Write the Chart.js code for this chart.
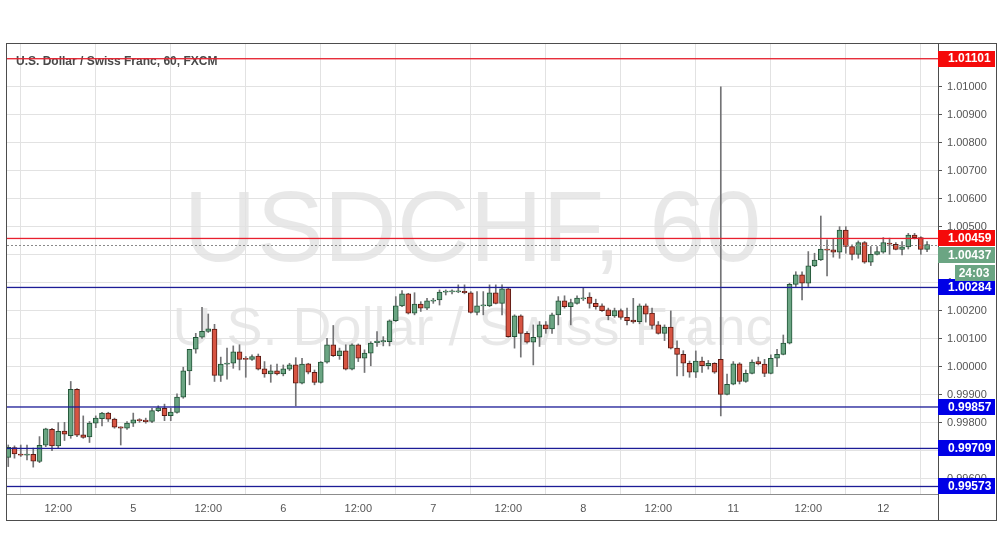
<!DOCTYPE html>
<html><head>
<meta charset="utf-8">
<title>USDCHF, 60</title>
<script src="https://cdn.jsdelivr.net/npm/chart.js"></script>
<style>
  body { margin: 0; background: #fff; }
  canvas { display: block; }
</style>
</head>
<body>
<canvas id="chart" width="1002" height="558"></canvas>
<script>
// hourly candles (index 0 = day 4, 04:00)
const opens = [
  0.99677, 0.99712, 0.99689, 0.99685, 0.99688, 0.99662, 0.99720, 0.99777, 0.99718, 0.99771,
  0.99754, 0.99920, 0.99757, 0.99750, 0.99799, 0.99815, 0.99835, 0.99814, 0.99786, 0.99781,
  0.99799, 0.99810, 0.99810, 0.99805, 0.99844, 0.99852, 0.99826, 0.99837, 0.99892, 0.99986,
  1.00063, 1.00106, 1.00127, 1.00135, 0.99970, 1.00010, 1.00013, 1.00054, 1.00029, 1.00027,
  1.00039, 0.99993, 0.99975, 0.99986, 0.99975, 0.99992, 1.00007, 0.99942, 1.00011, 0.99981,
  0.99945, 1.00017, 1.00079, 1.00040, 1.00057, 0.99992, 1.00079, 1.00031, 1.00049, 1.00087,
  1.00089, 1.00090, 1.00165, 1.00218, 1.00261, 1.00192, 1.00224, 1.00210, 1.00235, 1.00239,
  1.00267, 1.00268, 1.00268, 1.00270, 1.00265, 1.00195, 1.00218, 1.00218, 1.00265, 1.00227,
  1.00279, 1.00108, 1.00182, 1.00120, 1.00088, 1.00106, 1.00150, 1.00136, 1.00186, 1.00236,
  1.00215, 1.00227, 1.00243, 1.00249, 1.00227, 1.00218, 1.00204, 1.00182, 1.00201, 1.00177,
  1.00167, 1.00162, 1.00218, 1.00192, 1.00150, 1.00120, 1.00142, 1.00067, 1.00045, 1.00013,
  0.99981, 1.00021, 1.00004, 1.00013, 1.00027, 0.99902, 0.99938, 1.00011, 0.99948, 0.99977,
  1.00019, 1.00010, 0.99977, 1.00031, 1.00045, 1.00085, 1.00295, 1.00329, 1.00299, 1.00361,
  1.00382, 1.00420, 1.00418, 1.00410, 1.00489, 1.00430, 1.00402, 1.00444, 1.00374, 1.00402,
  1.00410, 1.00442, 1.00438, 1.00420, 1.00429, 1.00471, 1.00462, 1.00420
];
const highs = [
  0.99721, 0.99718, 0.99721, 0.99721, 0.99710, 0.99751, 0.99781, 0.99781, 0.99801, 0.99802,
  0.99948, 0.99923, 0.99825, 0.99805, 0.99825, 0.99838, 0.99838, 0.99817, 0.99786, 0.99805,
  0.99835, 0.99815, 0.99817, 0.99852, 0.99861, 0.99867, 0.99852, 0.99904, 0.99999, 1.00063,
  1.00120, 1.00213, 1.00189, 1.00152, 1.00035, 1.00067, 1.00075, 1.00079, 1.00037, 1.00043,
  1.00046, 1.00019, 1.00007, 1.00010, 1.00007, 1.00013, 1.00033, 1.00031, 1.00013, 0.99989,
  1.00019, 1.00102, 1.00148, 1.00067, 1.00079, 1.00082, 1.00082, 1.00061, 1.00090, 1.00126,
  1.00108, 1.00168, 1.00251, 1.00273, 1.00263, 1.00265, 1.00233, 1.00245, 1.00245, 1.00275,
  1.00275, 1.00275, 1.00293, 1.00293, 1.00269, 1.00269, 1.00269, 1.00293, 1.00293, 1.00293,
  1.00281, 1.00186, 1.00186, 1.00126, 1.00150, 1.00162, 1.00162, 1.00192, 1.00251, 1.00254,
  1.00242, 1.00254, 1.00281, 1.00265, 1.00242, 1.00225, 1.00210, 1.00210, 1.00207, 1.00210,
  1.00245, 1.00225, 1.00225, 1.00210, 1.00162, 1.00150, 1.00200, 1.00093, 1.00058, 1.00021,
  1.00057, 1.00035, 1.00023, 1.00015, 1.01000, 0.99974, 1.00019, 1.00015, 0.99989, 1.00025,
  1.00035, 1.00027, 1.00043, 1.00063, 1.00114, 1.00299, 1.00340, 1.00340, 1.00412, 1.00406,
  1.00539, 1.00454, 1.00456, 1.00501, 1.00501, 1.00436, 1.00450, 1.00448, 1.00430, 1.00430,
  1.00462, 1.00460, 1.00444, 1.00448, 1.00477, 1.00477, 1.00465, 1.00448
];
const lows = [
  0.99644, 0.99674, 0.99680, 0.99668, 0.99642, 0.99658, 0.99715, 0.99701, 0.99710, 0.99737,
  0.99745, 0.99751, 0.99745, 0.99730, 0.99783, 0.99789, 0.99805, 0.99781, 0.99721, 0.99777,
  0.99787, 0.99802, 0.99799, 0.99801, 0.99840, 0.99808, 0.99808, 0.99835, 0.99888, 0.99936,
  1.00049, 1.00102, 1.00123, 0.99948, 0.99948, 0.99956, 0.99995, 0.99989, 0.99963, 1.00023,
  0.99989, 0.99963, 0.99945, 0.99971, 0.99968, 0.99987, 0.99861, 0.99939, 0.99975, 0.99936,
  0.99942, 1.00013, 1.00037, 1.00027, 0.99989, 0.99989, 1.00019, 0.99980, 1.00004, 1.00073,
  1.00075, 1.00075, 1.00162, 1.00215, 1.00189, 1.00186, 1.00198, 1.00204, 1.00227, 1.00221,
  1.00257, 1.00261, 1.00265, 1.00261, 1.00192, 1.00186, 1.00186, 1.00215, 1.00225, 1.00186,
  1.00106, 1.00067, 1.00035, 1.00085, 1.00007, 1.00073, 1.00120, 1.00120, 1.00150, 1.00210,
  1.00150, 1.00224, 1.00237, 1.00210, 1.00206, 1.00198, 1.00168, 1.00177, 1.00170, 1.00150,
  1.00156, 1.00154, 1.00160, 1.00136, 1.00117, 1.00094, 1.00064, 0.99968, 0.99968, 0.99963,
  0.99962, 0.99980, 0.99992, 0.99977, 0.99825, 0.99900, 0.99936, 0.99939, 0.99945, 0.99975,
  1.00007, 0.99965, 0.99975, 1.00001, 1.00043, 1.00082, 1.00287, 1.00239, 1.00287, 1.00358,
  1.00380, 1.00325, 1.00392, 1.00388, 1.00406, 1.00382, 1.00388, 1.00370, 1.00362, 1.00400,
  1.00406, 1.00402, 1.00418, 1.00400, 1.00421, 1.00457, 1.00402, 1.00412
];
const closes = [
  0.99713, 0.99689, 0.99685, 0.99689, 0.99663, 0.99720, 0.99779, 0.99718, 0.99770, 0.99760,
  0.99920, 0.99756, 0.99748, 0.99799, 0.99817, 0.99835, 0.99813, 0.99785, 0.99781, 0.99799,
  0.99811, 0.99808, 0.99804, 0.99844, 0.99854, 0.99826, 0.99839, 0.99892, 0.99986, 1.00063,
  1.00106, 1.00127, 1.00136, 0.99970, 1.00010, 1.00014, 1.00054, 1.00027, 1.00027, 1.00037,
  0.99992, 0.99975, 0.99986, 0.99975, 0.99993, 1.00007, 0.99942, 1.00010, 0.99981, 0.99945,
  1.00017, 1.00079, 1.00040, 1.00057, 0.99992, 1.00079, 1.00031, 1.00049, 1.00085, 1.00092,
  1.00094, 1.00165, 1.00218, 1.00261, 1.00192, 1.00224, 1.00210, 1.00236, 1.00239, 1.00267,
  1.00268, 1.00269, 1.00271, 1.00265, 1.00195, 1.00218, 1.00219, 1.00265, 1.00227, 1.00279,
  1.00108, 1.00182, 1.00120, 1.00088, 1.00106, 1.00150, 1.00136, 1.00186, 1.00236, 1.00215,
  1.00230, 1.00246, 1.00246, 1.00227, 1.00215, 1.00201, 1.00183, 1.00201, 1.00177, 1.00165,
  1.00161, 1.00218, 1.00188, 1.00148, 1.00120, 1.00142, 1.00067, 1.00045, 1.00013, 0.99981,
  1.00021, 1.00004, 1.00013, 0.99981, 0.99902, 0.99938, 1.00011, 0.99948, 0.99977, 1.00017,
  1.00011, 0.99977, 1.00031, 1.00045, 1.00085, 1.00295, 1.00329, 1.00299, 1.00361, 1.00382,
  1.00421, 1.00417, 1.00410, 1.00489, 1.00430, 1.00402, 1.00444, 1.00374, 1.00402, 1.00412,
  1.00444, 1.00438, 1.00420, 1.00429, 1.00471, 1.00462, 1.00420, 1.00437
];

// time axis: candle index of each label
const xTickPos = [8, 20, 32, 44, 56, 68, 80, 92, 104, 116, 128, 140];
const xTickText = ['12:00', '5', '12:00', '6', '12:00', '7', '12:00', '8', '12:00', '11', '12:00', '12'];
const yTickVals = [0.996, 0.997, 0.998, 0.999, 1.000, 1.001, 1.002, 1.003, 1.004,
                   1.005, 1.006, 1.007, 1.008, 1.009, 1.010, 1.011];

// drawn horizontal levels
const redLevels = [1.01101, 1.00459];
const blueLevels = [1.00284, 0.99857, 0.99709, 0.99573];
const lastPrice = 1.00437;
const countdown = '24:03';
const title = 'U.S. Dollar / Swiss Franc, 60, FXCM';
const watermark = ['USDCHF, 60', 'U.S. Dollar / Swiss Franc'];

const FONT = "'Liberation Sans', Arial, sans-serif";
const UP = '#6ba583', DOWN = '#d75442';
const UP_EDGE = '#225437', DOWN_EDGE = '#5b1a13';
const RED_LINE = '#e8202e', BLUE_LINE = '#1c1c96';
const RED_TAG = '#f50a0a', BLUE_TAG = '#0000e6';

Chart.defaults.font.family = FONT;

const idx = opens.map((_, i) => i);
const isUp = i => closes[i] >= opens[i];

function tag(ctx, yc, text, bg, x0, x1, tx) {
  ctx.fillStyle = bg;
  ctx.fillRect(x0, Math.round(yc - 8), x1 - x0, 16);
  ctx.fillStyle = '#fff';
  ctx.font = 'bold 12px ' + FONT;
  ctx.textBaseline = 'middle';
  ctx.textAlign = 'left';
  ctx.fillText(text, tx, yc + 0.5);
}

const overlay = {
  id: 'overlay',
  beforeDraw(chart) {
    const {ctx, chartArea: a} = chart;
    const cx = (a.left + a.right) / 2;
    ctx.save();
    ctx.fillStyle = 'rgba(0,0,0,0.09)';
    ctx.textAlign = 'center';
    ctx.textBaseline = 'alphabetic';
    ctx.font = '101px ' + FONT;
    ctx.fillText(watermark[0], cx, 261);
    ctx.font = '54px ' + FONT;
    ctx.fillText(watermark[1], cx, 345);
    ctx.restore();
  },
  afterDatasetsDraw(chart) {
    const {ctx, chartArea: a} = chart;
    const y = chart.scales.y;
    const w = a.right - a.left;
    ctx.save();
    ctx.beginPath();
    ctx.rect(a.left, a.top, w, a.bottom - a.top);
    ctx.clip();

    ctx.fillStyle = '#4a4a4a';
    ctx.font = 'bold 12px ' + FONT;
    ctx.textBaseline = 'alphabetic';
    ctx.fillText(title, 16, 65);

    // dotted last-price line
    ctx.fillStyle = '#8a8a8a';
    const py = Math.round(y.getPixelForValue(lastPrice));
    for (let x = a.left; x < a.right; x += 4) ctx.fillRect(x, py, 2, 1);

    const level = (v, col) => {
      ctx.fillStyle = col;
      ctx.fillRect(a.left, y.getPixelForValue(v) - 0.6, w, 1.3);
    };
    redLevels.forEach(v => level(v, RED_LINE));
    blueLevels.forEach(v => level(v, BLUE_LINE));
    ctx.restore();
  },
  afterDraw(chart) {
    const {ctx, chartArea: a} = chart;
    const y = chart.scales.y;
    ctx.save();
    // outer frame and axis line down through the time scale
    ctx.strokeStyle = '#4d4d4d';
    ctx.lineWidth = 1;
    ctx.strokeRect(6.5, 43.5, 990, 477);
    ctx.beginPath(); ctx.moveTo(a.right + 0.5, a.bottom); ctx.lineTo(a.right + 0.5, 521); ctx.stroke();

    const x0 = a.right, x1 = 995;
    redLevels.forEach(v => tag(ctx, y.getPixelForValue(v), v.toFixed(5), RED_TAG, x0, x1, x0 + 10));
    blueLevels.forEach(v => tag(ctx, y.getPixelForValue(v), v.toFixed(5), BLUE_TAG, x0, x1, x0 + 10));

    // last price tag is pushed below the level tag it would overlap
    const redY = y.getPixelForValue(redLevels[1]);
    const curY = Math.max(y.getPixelForValue(lastPrice), redY + 17);
    tag(ctx, curY, lastPrice.toFixed(5), UP, x0, x1, x0 + 10);
    ctx.fillStyle = UP;
    const cy = curY + 17.5;
    ctx.fillRect(955, Math.round(cy - 8), x1 - 955, 16);
    ctx.fillStyle = '#fff';
    ctx.font = 'bold 12px ' + FONT;
    ctx.textAlign = 'center';
    ctx.textBaseline = 'middle';
    ctx.fillText(countdown, 974, cy + 0.5);
    ctx.restore();
  }
};

new Chart(document.getElementById('chart'), {
  type: 'bar',
  data: {
    datasets: [{
      label: 'body',
      data: idx.map(i => ({x: i, y: [opens[i], closes[i]]})),
      barThickness: 5,
      minBarLength: 1,
      borderWidth: 1,
      borderSkipped: false,
      grouped: false,
      order: 0,
      backgroundColor: c => isUp(c.dataIndex) ? UP : DOWN,
      borderColor: c => isUp(c.dataIndex) ? UP_EDGE : DOWN_EDGE
    }, {
      label: 'wick',
      data: idx.map(i => ({x: i, y: [lows[i], highs[i]]})),
      barThickness: 1,
      grouped: false,
      order: 1,
      backgroundColor: '#737375'
    }]
  },
  options: {
    responsive: false,
    animation: false,
    devicePixelRatio: 1,
    layout: { padding: { left: 7, top: 43, right: 5, bottom: 37 } },
    plugins: { legend: { display: false }, tooltip: { enabled: false } },
    scales: {
      x: {
        type: 'linear',
        position: 'bottom',
        min: -0.2,
        max: 148.75,
        offset: false,
        afterBuildTicks: s => { s.ticks = xTickPos.map(v => ({value: v})); },
        afterFit: s => { s.height = 27; },
        ticks: {
          callback: (v, i) => xTickText[i],
          autoSkip: false,
          maxRotation: 0,
          color: '#555',
          font: { size: 11 },
          padding: 8
        },
        grid: { color: '#e2e2e2', drawTicks: false },
        border: { color: '#8c8c8c' }
      },
      y: {
        type: 'linear',
        position: 'right',
        min: 0.99546,
        max: 1.01157,
        afterBuildTicks: s => { s.ticks = yTickVals.map(v => ({value: v})); },
        afterFit: s => { s.width = 59; },
        ticks: {
          callback: v => v.toFixed(5),
          color: '#555',
          font: { size: 11 },
          padding: 5
        },
        grid: { color: '#e2e2e2', tickLength: 4, tickColor: '#555' },
        border: { color: '#4d4d4d' }
      }
    }
  },
  plugins: [overlay]
});
</script>
</body></html>
